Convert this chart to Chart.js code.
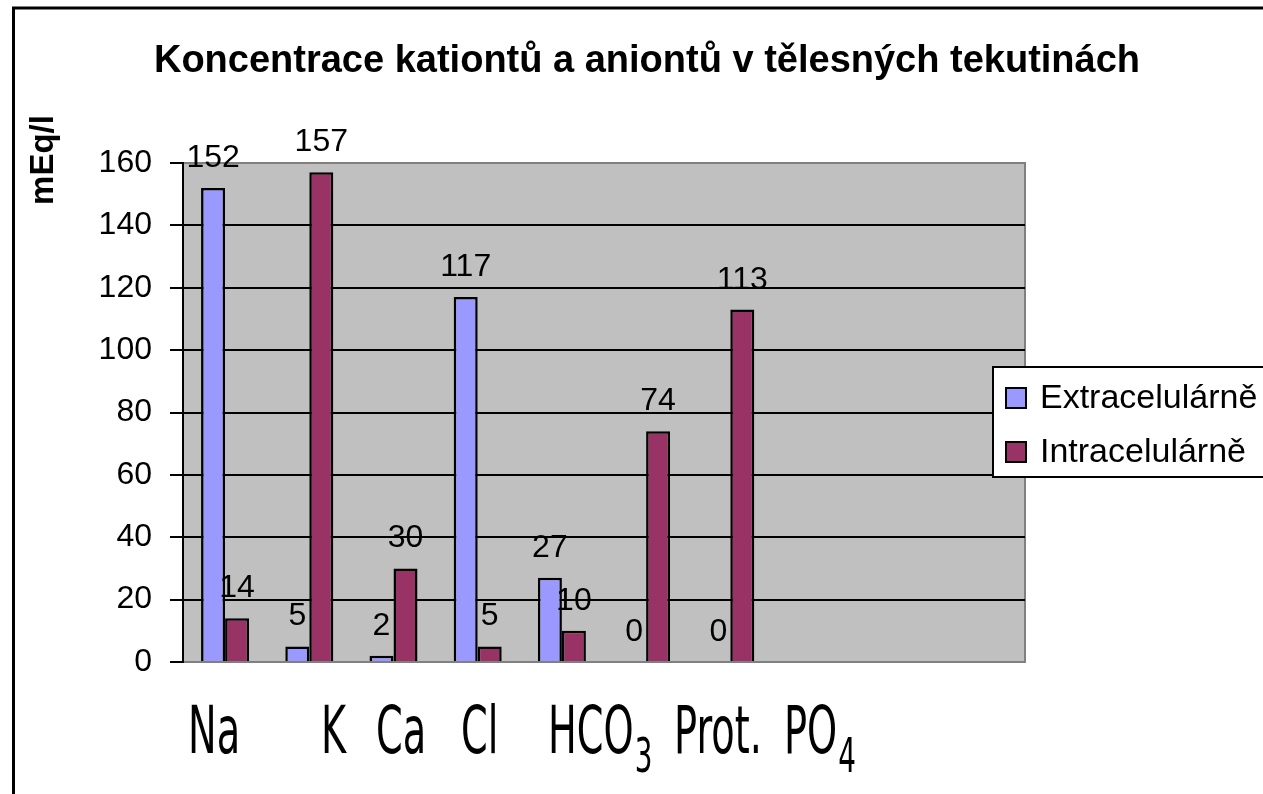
<!DOCTYPE html>
<html>
<head>
<meta charset="utf-8">
<script src="https://cdn.jsdelivr.net/npm/chart.js@4.4.1/dist/chart.umd.min.js"></script>
<style>
  html, body { margin: 0; padding: 0; background: #fff; overflow: hidden; }
  #wrap { width: 1263px; height: 794px; }
</style>
</head>
<body>
<div id="wrap"><canvas id="ionChart" width="1263" height="794"></canvas></div>
<script>
// data (mEq/l)
const categories = ['Na', 'K', 'Ca', 'Cl', 'HCO3', 'Prot.', 'PO4', '', '', ''];
const extracellular = [152, 5, 2, 117, 27, 0, 0, null, null, null];
const intracellular = [14, 157, 30, 5, 10, 74, 113, null, null, null];
const seriesNames = ['Extracelulárně', 'Intracelulárně'];
const seriesColors = ['#9999ff', '#993366'];
const yMin = 0, yMax = 160, yStep = 20;

const chartTitle = 'Koncentrace kationtů a aniontů v tělesných tekutinách';
const yTitle = 'mEq/l';
// the text box under the plot: [text, subscript]
const bottomText = [['Na', ''], ['K', ''], ['Ca', ''], ['Cl', ''], ['HCO', '3'], ['Prot.', ''], ['PO', '4']];
const bottomTextX = [188, 321, 376, 461, 548, 674, 784];

const FONT = "'Liberation Sans', Arial, sans-serif";
Chart.defaults.font.family = FONT;
Chart.defaults.color = '#000';

// grey plot area with grey border, like the old Excel chart
const plotBackground = {
  id: 'plotBackground',
  beforeDraw(chart) {
    const { ctx, chartArea: a } = chart;
    ctx.save();
    ctx.fillStyle = '#fff';
    ctx.fillRect(0, 0, chart.width, chart.height);
    ctx.fillStyle = '#c0c0c0';
    ctx.fillRect(a.left, a.top, a.right - a.left, a.bottom - a.top);
    ctx.strokeStyle = '#808080';
    ctx.lineWidth = 2;
    ctx.strokeRect(a.left, a.top, a.right - a.left, a.bottom - a.top);
    ctx.restore();
  }
};

// value labels above bars
const valueLabels = {
  id: 'valueLabels',
  afterDatasetsDraw(chart) {
    const ctx = chart.ctx;
    ctx.save();
    ctx.font = '32px ' + FONT;
    ctx.fillStyle = '#000';
    ctx.textAlign = 'center';
    ctx.textBaseline = 'alphabetic';
    chart.data.datasets.forEach((ds, i) => {
      const meta = chart.getDatasetMeta(i);
      meta.data.forEach((bar, j) => {
        const v = ds.data[j];
        if (v === null) return;
        ctx.fillText(String(v), bar.x, bar.y - 21);
      });
    });
    ctx.restore();
  }
};

// frame, titles, legend box and the text box below
const decorations = {
  id: 'decorations',
  afterDraw(chart) {
    const ctx = chart.ctx;
    ctx.save();

    // title
    ctx.fillStyle = '#000';
    ctx.font = 'bold 38px ' + FONT;
    ctx.textAlign = 'center';
    ctx.textBaseline = 'alphabetic';
    ctx.fillText(chartTitle, 647, 72);

    // y axis title
    ctx.save();
    ctx.translate(53, 160);
    ctx.rotate(-Math.PI / 2);
    ctx.font = 'bold 33px ' + FONT;
    ctx.fillText(yTitle, 0, 0);
    ctx.restore();

    // legend
    ctx.fillStyle = '#fff';
    ctx.fillRect(993, 367, 320, 110);
    ctx.strokeStyle = '#000';
    ctx.lineWidth = 2;
    ctx.strokeRect(993, 367, 320, 110);
    ctx.font = '34px ' + FONT;
    ctx.textAlign = 'left';
    ctx.textBaseline = 'middle';
    chart.data.datasets.forEach((ds, i) => {
      const cy = 398 + i * 54;
      ctx.fillStyle = ds.backgroundColor;
      ctx.fillRect(1006, cy - 10, 20, 20);
      ctx.strokeRect(1006, cy - 10, 20, 20);
      ctx.fillStyle = '#000';
      ctx.fillText(ds.label, 1040, cy + 1);
    });

    // text box under the chart (condensed font)
    ctx.textBaseline = 'alphabetic';
    bottomText.forEach(([txt, sub], i) => {
      ctx.save();
      ctx.translate(bottomTextX[i], 753);
      ctx.scale(0.58, 1);
      ctx.font = "66px 'DejaVu Sans', sans-serif";
      ctx.fillText(txt, 0, 0);
      if (sub) {
        const w = ctx.measureText(txt).width;
        ctx.font = "48px 'DejaVu Sans', sans-serif";
        ctx.fillText(sub, w + 2, 19);
      }
      ctx.restore();
    });

    // outer frame
    ctx.strokeStyle = '#000';
    ctx.lineWidth = 3;
    ctx.strokeRect(13.5, 8, 1400, 1000);
    ctx.restore();
  }
};

const canvasElement = document.getElementById('ionChart');
const config = {
  type: 'bar',
  data: {
    labels: categories,
    datasets: [
      { label: seriesNames[0], data: extracellular, backgroundColor: seriesColors[0] },
      { label: seriesNames[1], data: intracellular, backgroundColor: seriesColors[1] }
    ]
  },
  options: {
    responsive: false,
    animation: false,
    layout: { padding: { top: 163, right: 238, bottom: 132, left: 0 } },
    datasets: {
      bar: {
        borderColor: '#000',
        borderWidth: 2.5,
        categoryPercentage: 0.57,
        barPercentage: 1.0
      }
    },
    plugins: {
      legend: { display: false },
      title: { display: false },
      tooltip: { enabled: false }
    },
    scales: {
      x: {
        grid: { display: false },
        ticks: { display: false },
        border: { display: true, color: '#808080', width: 2 },
        afterFit(scale) { scale.height = 0; }
      },
      y: {
        min: yMin,
        max: yMax,
        ticks: { stepSize: yStep, padding: 18, font: { size: 32 }, color: '#000' },
        grid: {
          color: (c) => (c.tick && (c.tick.value === yMin || c.tick.value === yMax)) ? 'rgba(0,0,0,0)' : '#000',
          tickColor: '#000',
          lineWidth: 2,
          tickLength: 13
        },
        border: { display: true, color: '#000', width: 2 },
        afterFit(scale) { scale.width = 183; }
      }
    }
  },
  plugins: [plotBackground, valueLabels, decorations]
};

const ionChart = new Chart(canvasElement, config);
</script>
</body>
</html>
